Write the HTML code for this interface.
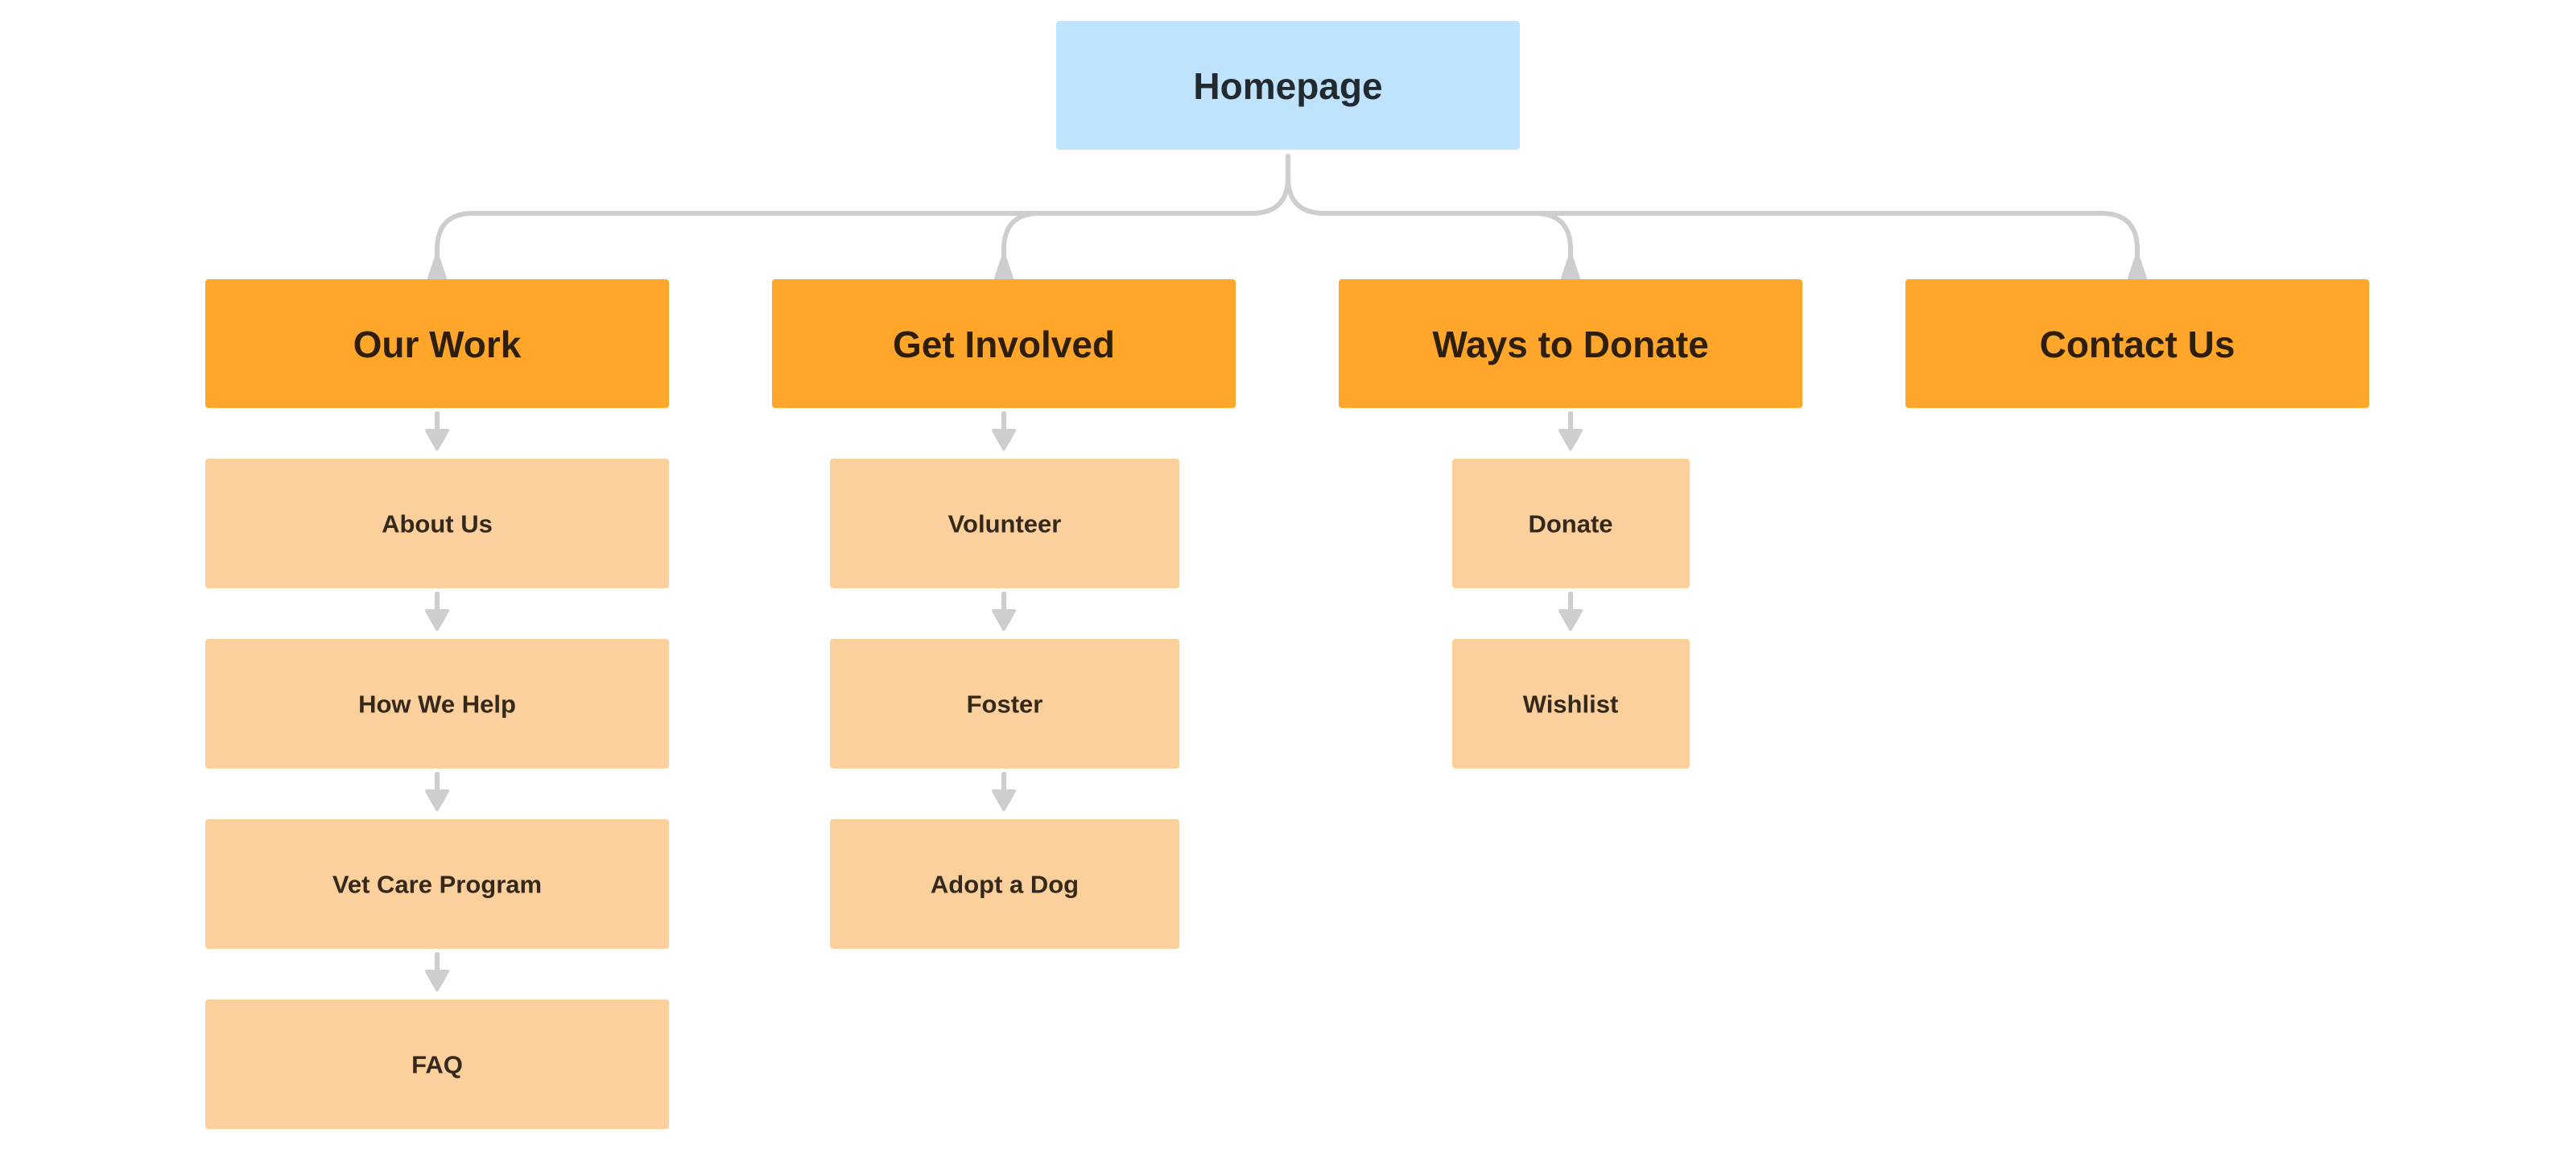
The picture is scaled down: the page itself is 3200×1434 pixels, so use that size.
<!DOCTYPE html>
<html><head><meta charset="utf-8"><style>
html,body{margin:0;padding:0;background:#fff;}
svg{display:block}
text{font-family:"Liberation Sans",sans-serif;font-weight:bold;text-anchor:middle;dominant-baseline:central}
</style></head><body>
<svg width="3200" height="1434" viewBox="0 0 3200 1434" xmlns="http://www.w3.org/2000/svg">
<g fill="none" stroke="#cfcdcf" stroke-width="6" stroke-linecap="round">
<path d="M1600 194 V220 Q1600 265 1555 265 H588 Q543 265 543 310 V325"/>
<path d="M1292 265 Q1247 265 1247 310 V325"/>
<path d="M1600 220 Q1600 265 1645 265 H2610 Q2655 265 2655 310 V325"/>
<path d="M1906 265 Q1951 265 1951 310 V325"/>
</g>
<g fill="#cfcdcf" stroke="#cfcdcf" stroke-width="4" stroke-linejoin="round">
<polygon points="543,316 533,346 553,346"/>
<polygon points="1247,316 1237,346 1257,346"/>
<polygon points="1951,316 1941,346 1961,346"/>
<polygon points="2655,316 2645,346 2665,346"/>
</g>
<g fill="#bfe3fc"><rect x="1312" y="26" width="576" height="160" rx="4"/></g>
<g fill="#ffa62b">
<rect x="255" y="347" width="576" height="160" rx="4"/>
<rect x="959" y="347" width="576" height="160" rx="4"/>
<rect x="1663" y="347" width="576" height="160" rx="4"/>
<rect x="2367" y="347" width="576" height="160" rx="4"/>
</g>
<g fill="#fbd09c">
<rect x="255" y="570" width="576" height="161" rx="4"/>
<rect x="255" y="794" width="576" height="161" rx="4"/>
<rect x="255" y="1018" width="576" height="161" rx="4"/>
<rect x="255" y="1242" width="576" height="161" rx="4"/>
<rect x="1031" y="570" width="434" height="161" rx="4"/>
<rect x="1031" y="794" width="434" height="161" rx="4"/>
<rect x="1031" y="1018" width="434" height="161" rx="4"/>
<rect x="1804" y="570" width="295" height="161" rx="4"/>
<rect x="1804" y="794" width="295" height="161" rx="4"/>
</g>
<g stroke="#cfcdcf" stroke-width="6" stroke-linecap="round" fill="#cfcdcf" stroke-linejoin="round">
<path d="M543 514 V534"/><polygon stroke-width="4" points="530,535 556,535 543,558"/>
<path d="M543 738 V758"/><polygon stroke-width="4" points="530,759 556,759 543,782"/>
<path d="M543 962 V982"/><polygon stroke-width="4" points="530,983 556,983 543,1006"/>
<path d="M543 1186 V1206"/><polygon stroke-width="4" points="530,1207 556,1207 543,1230"/>
<path d="M1247 514 V534"/><polygon stroke-width="4" points="1234,535 1260,535 1247,558"/>
<path d="M1247 738 V758"/><polygon stroke-width="4" points="1234,759 1260,759 1247,782"/>
<path d="M1247 962 V982"/><polygon stroke-width="4" points="1234,983 1260,983 1247,1006"/>
<path d="M1951 514 V534"/><polygon stroke-width="4" points="1938,535 1964,535 1951,558"/>
<path d="M1951 738 V758"/><polygon stroke-width="4" points="1938,759 1964,759 1951,782"/>
</g>
<text x="1600" y="107" font-size="46" fill="#222a30">Homepage</text>
<g font-size="46" fill="#2e1f0a">
<text x="543" y="428">Our Work</text>
<text x="1247" y="428">Get Involved</text>
<text x="1951" y="428">Ways to Donate</text>
<text x="2655" y="428">Contact Us</text>
</g>
<g font-size="31" fill="#33291c">
<text x="543" y="651">About Us</text>
<text x="543" y="875">How We Help</text>
<text x="543" y="1099">Vet Care Program</text>
<text x="543" y="1323">FAQ</text>
<text x="1248" y="651">Volunteer</text>
<text x="1248" y="875">Foster</text>
<text x="1248" y="1099">Adopt a Dog</text>
<text x="1951" y="651">Donate</text>
<text x="1951" y="875">Wishlist</text>
</g>
</svg>
</body></html>
